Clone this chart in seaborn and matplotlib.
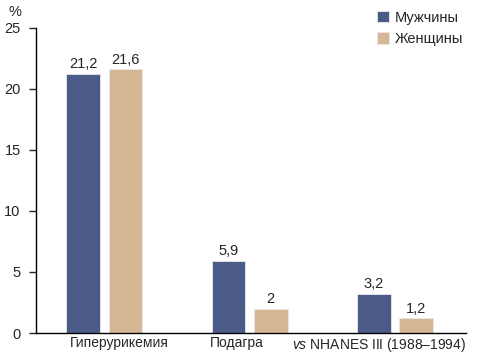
import matplotlib
matplotlib.use("Agg")
import matplotlib.pyplot as plt
import matplotlib.transforms as mtransforms
from matplotlib import font_manager
import pandas as pd
import seaborn as sns

categories = ["Гиперурикемия", "Подагра", "vs NHANES III (1988–1994)"]
tick_labels = ["Гиперурикемия", "Подагра", r"$\it{vs}$ NHANES III (1988–1994)"]
series = ["Мужчины", "Женщины"]
men = [21.2, 5.9, 3.2]
women = [21.6, 2.0, 1.2]
value_text = {"Мужчины": ["21,2", "5,9", "3,2"], "Женщины": ["21,6", "2", "1,2"]}
colors = {"Мужчины": "#4a5b87", "Женщины": "#d5b796"}

sns.set_style("white")
names = {f.name for f in font_manager.fontManager.ttflist}
base = "Liberation Sans Narrow" if "Liberation Sans Narrow" in names else "Liberation Sans"
plt.rcParams["font.family"] = [base, "DejaVu Sans"]
plt.rcParams["mathtext.fontset"] = "custom"
plt.rcParams["mathtext.it"] = base + ":italic"
plt.rcParams["mathtext.rm"] = base

df = pd.DataFrame({
    "cat": categories * 2,
    "sex": [series[0]] * 3 + [series[1]] * 3,
    "val": men + women,
})

fig = plt.figure(figsize=(4.78, 3.54), dpi=100)
ax = fig.add_axes([0.0753, 0.0593, 0.9, 0.862])
sns.barplot(data=df, x="cat", y="val", hue="sex", order=categories,
            hue_order=series, palette=colors, width=0.58, gap=0.2,
            edgecolor="#e8e8e8", linewidth=0.6, saturation=1, ax=ax, legend=True)

for cont, s in zip(ax.containers, series):
    ax.bar_label(cont, labels=value_text[s], padding=2, fontsize=10.5)

ax.set_ylim(0, 25)
ax.set_xlim(-0.47, 2.49)
ax.set_yticks([0, 5, 10, 15, 20, 25])
ax.set_xticks(range(3))
ax.set_xticklabels(tick_labels)
ax.tick_params(axis="y", length=5, width=1, direction="out", pad=6, labelsize=10.5, left=True)
ax.tick_params(axis="x", length=0, pad=2, labelsize=10)
# labels in the original sit a bit off the group centres
for lbl, dx in zip(ax.get_xticklabels(), [15, -13, -16]):
    lbl.set_transform(lbl.get_transform() + mtransforms.ScaledTranslation(dx / 100, 0, fig.dpi_scale_trans))
ax.set_xlabel("")
ax.set_ylabel("")
for sp in ["top", "right"]:
    ax.spines[sp].set_visible(False)
for sp in ["left", "bottom"]:
    ax.spines[sp].set_color("black")
    ax.spines[sp].set_linewidth(1)

fig.text(0.017, 0.965, "%", fontsize=10.5, va="center", ha="left")

ax.legend(loc="upper left", bbox_to_anchor=(0.78, 1.075), frameon=False,
          handlelength=0.8, handleheight=0.8, handletextpad=0.4,
          labelspacing=0.5, fontsize=10.5, borderaxespad=0)

fig.savefig("out.png", dpi=100)
